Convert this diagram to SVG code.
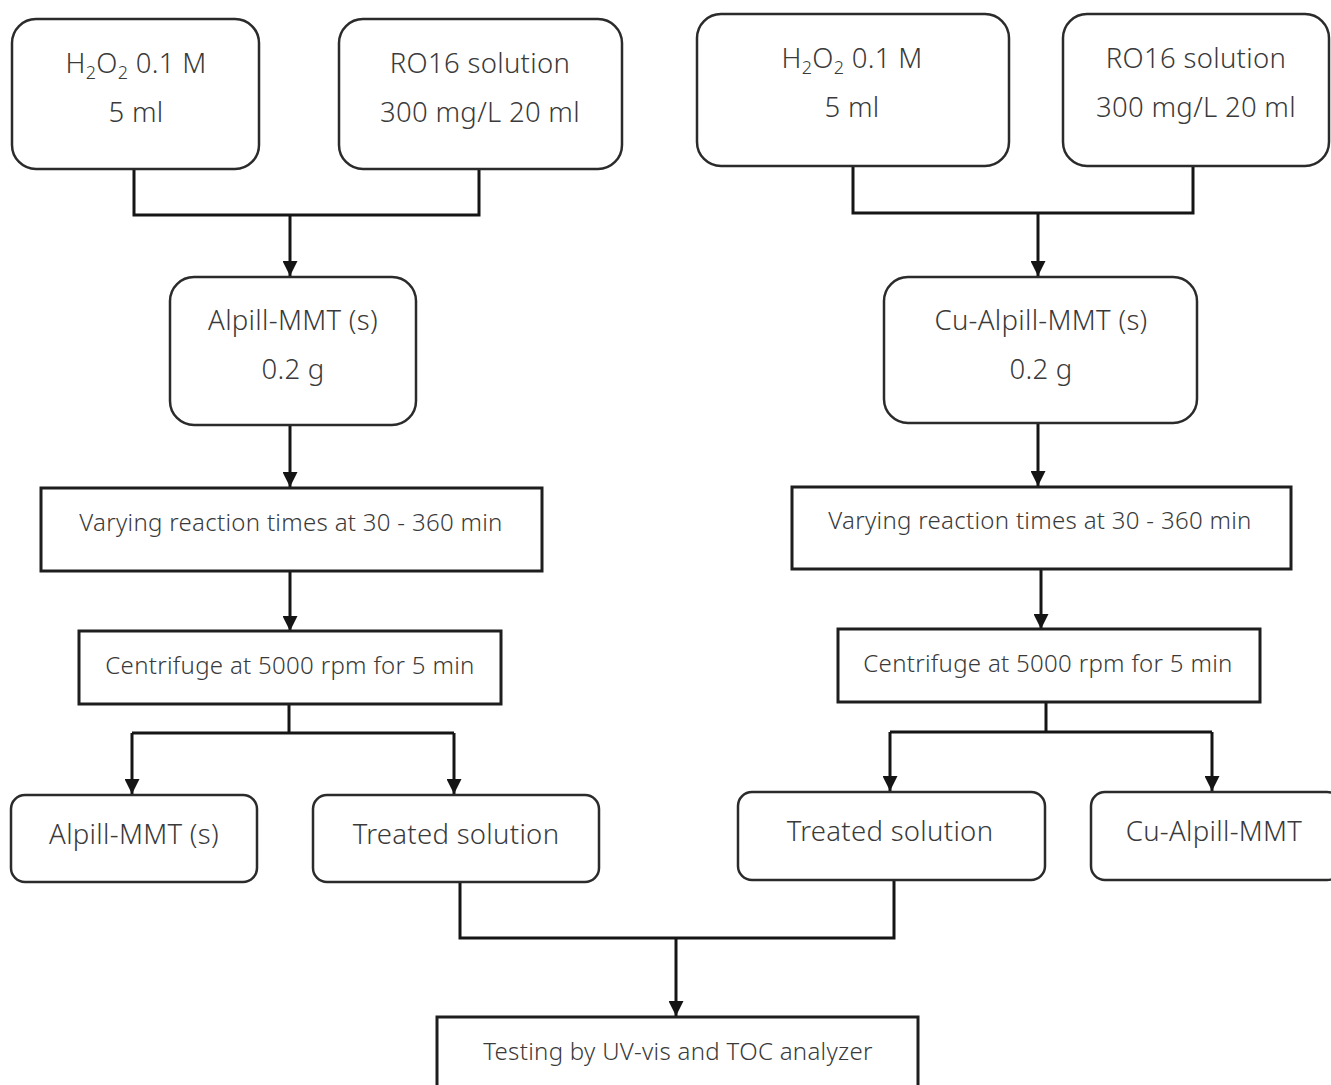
<svg xmlns="http://www.w3.org/2000/svg" width="1331" height="1085" viewBox="0 0 1331 1085">
  <defs>
    <style>
      .rbox { fill: #ffffff; stroke: #2b2b2b; stroke-width: 2.5; }
      .box { fill: #ffffff; stroke: #1e1e1e; stroke-width: 3; }
      .t { font-family: "Noto Sans", "Open Sans", sans-serif; fill: #3a3a3a; text-anchor: middle; font-weight: 300; }
      .big { font-size: 27.5px; letter-spacing: 0.3px; }
      .mid { font-size: 24px; letter-spacing: 0.3px; }
      .sub { font-size: 18px; }
      .wire { fill: none; stroke: #151515; stroke-width: 3; }
      .arr { fill: none; stroke: #151515; stroke-width: 3; marker-end: url(#head); }
    </style>
    <marker id="head" viewBox="0 0 10 10" refX="10" refY="5" markerWidth="5.5" markerHeight="5" markerUnits="strokeWidth" orient="auto">
      <path d="M0,0 L10,5 L0,10 Z" fill="#151515"/>
    </marker>
  </defs>
  <rect width="1331" height="1085" fill="#ffffff"/>

  <!-- connectors -->
  <g id="connectors">
    <path class="wire" d="M134,169 V215 H479 V169"/>
    <path class="arr" d="M290,215 V276"/>
    <path class="arr" d="M290,425 V487"/>
    <path class="arr" d="M290,571 V631"/>
    <path class="wire" d="M289,704 V733"/>
    <path class="wire" d="M132,733 H454"/>
    <path class="arr" d="M132,733 V794"/>
    <path class="arr" d="M454,733 V794"/>

    <path class="wire" d="M853,166 V213 H1193 V166"/>
    <path class="arr" d="M1038,213 V276"/>
    <path class="arr" d="M1038,423 V486"/>
    <path class="arr" d="M1041,569 V629"/>
    <path class="wire" d="M1046,702 V732"/>
    <path class="wire" d="M890,732 H1212"/>
    <path class="arr" d="M890,732 V791"/>
    <path class="arr" d="M1212,732 V791"/>

    <path class="wire" d="M460,882 V938 H894 V880"/>
    <path class="arr" d="M676,938 V1016"/>
  </g>

  <!-- left branch -->
  <g id="h2o2-left">
    <rect class="rbox" x="12" y="19" width="247" height="150" rx="24"/>
    <text class="t big" x="136" y="73">H<tspan class="sub" dy="6">2</tspan><tspan dy="-6">O</tspan><tspan class="sub" dy="6">2</tspan><tspan dy="-6"> 0.1 M</tspan></text>
    <text class="t big" x="136" y="122">5 ml</text>
  </g>
  <g id="ro16-left">
    <rect class="rbox" x="339" y="19" width="283" height="150" rx="24"/>
    <text class="t big" x="480" y="73">RO16 solution</text>
    <text class="t big" x="480" y="122">300 mg/L 20 ml</text>
  </g>
  <g id="alpill-left">
    <rect class="rbox" x="170" y="277" width="246" height="148" rx="24"/>
    <text class="t big" x="293" y="330">Alpill-MMT (s)</text>
    <text class="t big" x="293" y="379">0.2 g</text>
  </g>
  <g id="vary-left">
    <rect class="box" x="41" y="488" width="501" height="83"/>
    <text class="t mid" x="291" y="531">Varying reaction times at 30 - 360 min</text>
  </g>
  <g id="centrifuge-left">
    <rect class="box" x="79" y="631" width="422" height="73"/>
    <text class="t mid" x="290" y="674">Centrifuge at 5000 rpm for 5 min</text>
  </g>
  <g id="solid-left">
    <rect class="rbox" x="11" y="795" width="246" height="87" rx="14"/>
    <text class="t big" x="134" y="844">Alpill-MMT (s)</text>
  </g>
  <g id="treated-left">
    <rect class="rbox" x="313" y="795" width="286" height="87" rx="14"/>
    <text class="t big" x="456" y="844">Treated solution</text>
  </g>

  <!-- right branch -->
  <g id="h2o2-right">
    <rect class="rbox" x="697" y="14" width="312" height="152" rx="24"/>
    <text class="t big" x="852" y="68">H<tspan class="sub" dy="6">2</tspan><tspan dy="-6">O</tspan><tspan class="sub" dy="6">2</tspan><tspan dy="-6"> 0.1 M</tspan></text>
    <text class="t big" x="852" y="117">5 ml</text>
  </g>
  <g id="ro16-right">
    <rect class="rbox" x="1063" y="14" width="266" height="152" rx="24"/>
    <text class="t big" x="1196" y="68">RO16 solution</text>
    <text class="t big" x="1196" y="117">300 mg/L 20 ml</text>
  </g>
  <g id="cu-alpill-right">
    <rect class="rbox" x="884" y="277" width="313" height="146" rx="24"/>
    <text class="t big" x="1041" y="330">Cu-Alpill-MMT (s)</text>
    <text class="t big" x="1041" y="379">0.2 g</text>
  </g>
  <g id="vary-right">
    <rect class="box" x="792" y="487" width="499" height="82"/>
    <text class="t mid" x="1040" y="529">Varying reaction times at 30 - 360 min</text>
  </g>
  <g id="centrifuge-right">
    <rect class="box" x="838" y="629" width="422" height="73"/>
    <text class="t mid" x="1048" y="672">Centrifuge at 5000 rpm for 5 min</text>
  </g>
  <g id="treated-right">
    <rect class="rbox" x="738" y="792" width="307" height="88" rx="14"/>
    <text class="t big" x="890" y="841">Treated solution</text>
  </g>
  <g id="solid-right">
    <rect class="rbox" x="1091" y="792" width="250" height="88" rx="14"/>
    <text class="t big" x="1214" y="841">Cu-Alpill-MMT</text>
  </g>

  <!-- final step -->
  <g id="testing">
    <rect class="box" x="437" y="1017" width="481" height="80"/>
    <text class="t mid" x="678" y="1060">Testing by UV-vis and TOC analyzer</text>
  </g>
</svg>
